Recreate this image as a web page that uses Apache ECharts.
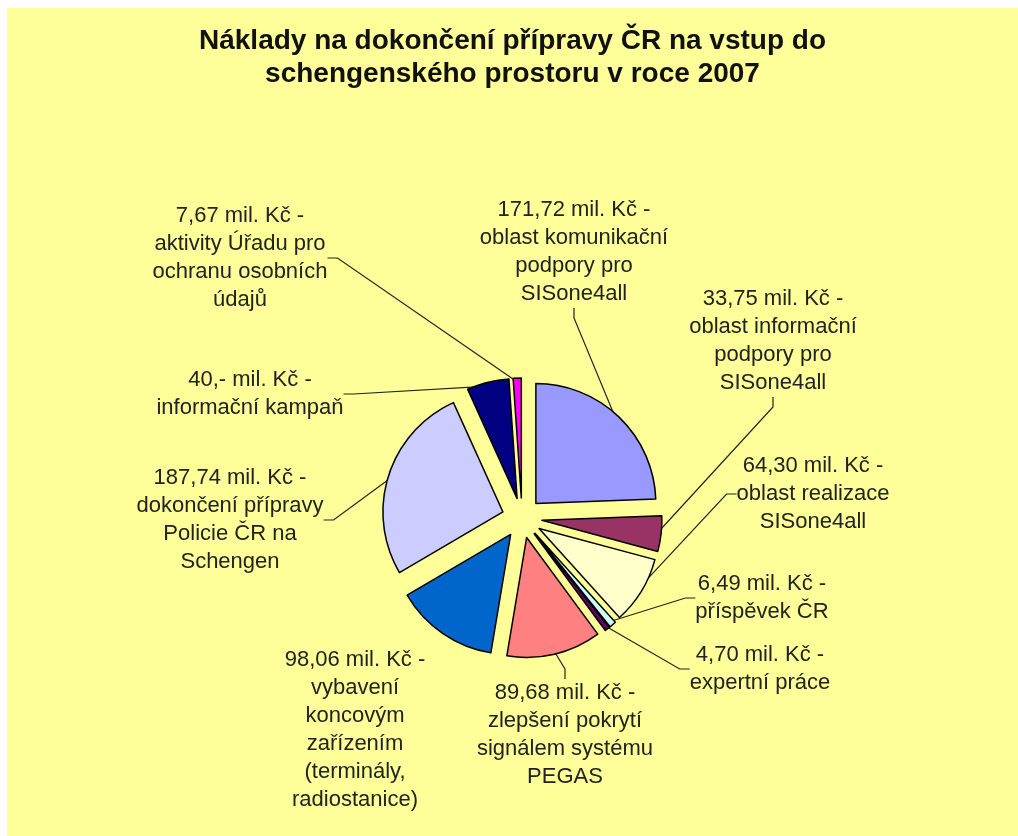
<!DOCTYPE html>
<html>
<head>
<meta charset="utf-8">
<script src="https://cdn.jsdelivr.net/npm/echarts@6/dist/echarts.min.js"></script>
<style>
  html, body { margin: 0; padding: 0; background: #fff; }
  #chart { position: absolute; left: 7px; top: 8px; width: 1011px; height: 828px; }
</style>
</head>
<body>
<div id="chart"></div>
<script>
// data
var values = [171.72, 33.75, 64.30, 6.49, 4.70, 89.68, 98.06, 187.74, 40, 7.67];
var names = [
  "oblast komunikační\npodpory pro\nSISone4all",
  "oblast informační\npodpory pro\nSISone4all",
  "oblast realizace\nSISone4all",
  "příspěvek ČR",
  "expertní práce",
  "zlepšení pokrytí\nsignálem systému\nPEGAS",
  "vybavení\nkoncovým\nzařízením\n(terminály,\nradiostanice)",
  "dokončení přípravy\nPolicie ČR na\nSchengen",
  "informační kampaň",
  "aktivity Úřadu pro\nochranu osobních\núdajů"
];
var colors = ["#9999FF", "#993366", "#FFFFCC", "#CCFFFF", "#660066",
              "#FF8080", "#0066CC", "#CCCCFF", "#000080", "#FF00FF"];

// where each label sits (chart px), and which ones get a leader line
var labelPos = [
  [567, 244], [766, 333], [806, 486], [755, 590], [753, 661],
  [558, 727], [348, 722], [223, 512], [243, 386], [233, 250]
];
var hasLine = [true, true, true, true, true, true, false, true, true, true];

function fmtValue(v) {
  if (v % 1 === 0) return v + ",-";
  return v.toFixed(2).replace(".", ",");
}

var myChart = echarts.init(document.getElementById('chart'));

var option = {
  backgroundColor: "#FFFF99",
  animation: false,
  color: colors,
  title: {
    text: "Náklady na dokončení přípravy ČR na vstup do\nschengenského prostoru v roce 2007",
    left: "center",
    top: 12,
    textStyle: {
      fontFamily: "Liberation Sans",
      fontSize: 28,
      fontWeight: "bold",
      color: "#111",
      lineHeight: 33
    }
  },
  series: [
    {
      // exploded slices
      type: "pie",
      z: 3,
      center: [515, 510],
      radius: [0, 120],
      startAngle: 90,
      selectedMode: "multiple",
      selectedOffset: 20,
      itemStyle: { borderColor: "#000", borderWidth: 1.5 },
      select: { itemStyle: { borderColor: "#000", borderWidth: 1.5 } },
      emphasis: { disabled: true },
      label: { show: false },
      labelLine: { show: false },
      data: values.map(function (v, i) {
        return { value: v, name: names[i], selected: true };
      })
    },
    {
      // same pie, invisible, only carries the labels and leader lines
      type: "pie",
      z: 1,
      silent: true,
      center: [515, 510],
      radius: [0, 136],
      startAngle: 90,
      avoidLabelOverlap: false,
      itemStyle: { color: "rgba(0,0,0,0)", borderWidth: 0 },
      emphasis: { disabled: true },
      label: {
        show: true,
        fontFamily: "Liberation Sans",
        fontSize: 22,
        lineHeight: 28,
        color: "#222",
        align: "center",
        formatter: function (p) {
          return fmtValue(p.value) + " mil. Kč -\n" + p.name;
        }
      },
      labelLine: {
        show: true,
        length: 20,
        length2: 10,
        lineStyle: { color: "#222", width: 1.2 }
      },
      labelLayout: function (params) {
        var pos = labelPos[params.dataIndex];
        return { x: pos[0], y: pos[1], align: "center", verticalAlign: "middle" };
      },
      data: values.map(function (v, i) {
        return { value: v, name: names[i], labelLine: { show: hasLine[i] } };
      })
    }
  ]
};

myChart.setOption(option);
</script>
</body>
</html>
